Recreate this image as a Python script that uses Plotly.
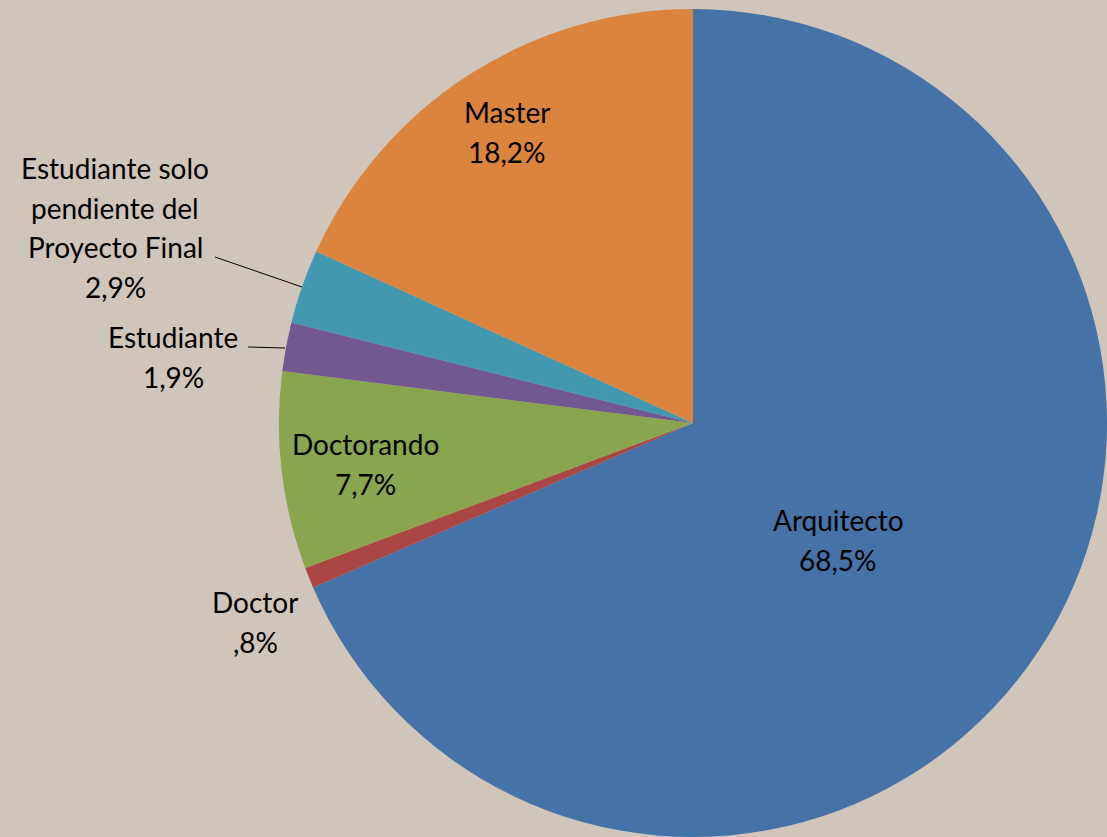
import plotly.graph_objects as go

# ---- data ----
categories = ["Arquitecto", "Doctor", "Doctorando", "Estudiante",
              "Estudiante solo pendiente del Proyecto Final", "Master"]
values = [68.5, 0.8, 7.7, 1.9, 2.9, 18.2]
colors = ["#4572A7", "#AA4643", "#89A54E", "#71588F", "#4198AF", "#DB843D"]
# label lines shown in the chart (category name wrapped as in the original)
label_lines = [["Arquitecto"], ["Doctor"], ["Doctorando"], ["Estudiante"],
               ["Estudiante solo", "pendiente del", "Proyecto Final"], ["Master"]]

W, H = 1107, 837
BG = "#CFC5BB"
FONT = "Lato"
FS = 28

def pct_text(v):
    s = f"{v:.1f}".replace(".", ",")
    if s.startswith("0"):
        s = s[1:]
    return s + "%"

# label anchor positions in pixels (center of first line), line spacing
label_pos = [(838, 520), (255, 602), (365, 444), (173, 337), (115, 168), (507, 112)]
LINE_H = 39.5

fig = go.Figure(go.Pie(
    labels=categories,
    values=values,
    sort=False,
    direction="clockwise",
    rotation=0,
    marker=dict(colors=colors, line=dict(width=0)),
    textinfo="none",
    hoverinfo="label+percent",
    showlegend=False,
    domain=dict(x=[(693 - 414) / W, (693 + 414) / W], y=[(H - 423 - 414) / H, (H - 423 + 414) / H]),
))

annotations = []
for lines, v, (px, py) in zip(label_lines, values, label_pos):
    all_lines = lines + [pct_text(v)]
    for i, t in enumerate(all_lines):
        annotations.append(dict(
            x=px / W, y=1 - (py + i * LINE_H) / H, xref="paper", yref="paper",
            text=t, showarrow=False, xanchor="center", yanchor="middle",
            font=dict(family=FONT, size=FS, color="#000000"),
        ))

# leader lines for outside labels
leaders = [((215, 257), (302, 287)), ((248, 347), (285, 348))]
shapes = []
for (x0, y0), (x1, y1) in leaders:
    shapes.append(dict(type="line", xref="paper", yref="paper",
                       x0=x0 / W, y0=1 - y0 / H, x1=x1 / W, y1=1 - y1 / H,
                       line=dict(color="#000000", width=1)))

fig.update_layout(
    width=W, height=H,
    margin=dict(l=0, r=0, t=0, b=0),
    paper_bgcolor=BG, plot_bgcolor=BG,
    annotations=annotations,
    shapes=shapes,
)

fig.write_html(
    "out.html",
    config={"displayModeBar": False},
    post_script="document.body.style.margin='0';document.body.style.background='%s';" % BG,
)
